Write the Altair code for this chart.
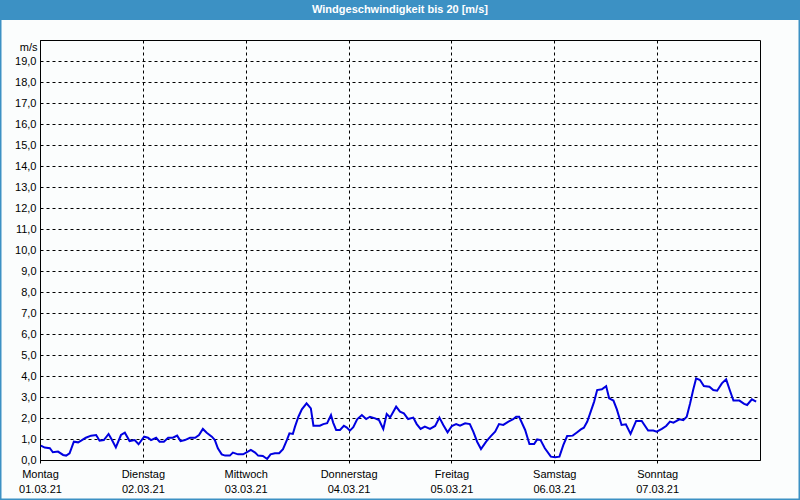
import altair as alt
import pandas as pd

# hours since Monday 01.03.21 00:00
hours = [0.2, 1.1, 2.3, 3.0, 4.2, 5.4, 6.1, 6.9, 7.9, 8.9, 9.6, 10.7, 11.9, 13.1, 13.9, 14.9,
         16.0, 16.8, 17.7, 18.9, 19.8, 20.9, 22.1, 23.0, 24.3, 25.2, 25.9, 27.1, 27.9, 28.9,
         29.9, 31.0, 32.0, 32.8, 33.8, 35.0, 36.2, 37.1, 38.0, 38.9, 40.1, 40.8, 41.5, 42.4,
         43.2, 44.3, 45.0, 46.2, 47.4, 48.3, 49.2, 50.2, 50.9, 52.0, 53.0, 53.8, 54.8, 55.8,
         56.7, 57.6, 58.2, 59.0, 59.5, 60.3, 61.1, 62.2, 63.2, 63.8, 65.3, 66.1, 67.0, 67.9,
         68.4, 69.1, 70.0, 70.9, 71.6, 72.3, 73.1, 74.0, 75.1, 76.1, 77.0, 78.2, 79.1, 80.1,
         80.9, 81.7, 83.1, 84.0, 84.9, 85.9, 87.1, 87.9, 88.8, 89.8, 91.0, 92.2, 93.2, 94.1,
         95.1, 96.1, 97.1, 98.0, 99.2, 100.3, 101.1, 102.0, 102.9, 104.1, 105.2, 106.2, 107.1,
         108.1, 109.3, 110.4, 111.1, 111.8, 113.2, 114.2, 115.3, 116.0, 116.8, 117.8, 119.2,
         120.2, 121.2, 122.1, 123.0, 124.3, 125.2, 126.2, 126.9, 127.7, 128.5, 129.3, 130.0,
         131.1, 132.1, 132.8, 133.8, 134.6, 135.7, 136.7, 137.8, 139.1, 140.4, 141.9, 143.1,
         143.9, 145.1, 146.1, 147.0, 147.8, 149.2, 150.1, 150.9, 151.7, 152.4, 153.1, 154.0,
         154.9, 156.2, 157.1, 158.0, 159.1, 160.1, 161.0, 161.8, 163.2, 164.3, 165.0, 166.1,
         167.1]
speeds = [0.68, 0.59, 0.56, 0.37, 0.40, 0.24, 0.21, 0.32, 0.87, 0.84, 0.92, 1.06, 1.16, 1.19, 0.92, 0.95,
          1.24, 0.95, 0.60, 1.19, 1.30, 0.90, 0.95, 0.75, 1.11, 1.06, 0.95, 1.06, 0.87, 0.87,
          1.06, 1.06, 1.16, 0.90, 0.95, 1.06, 1.06, 1.19, 1.48, 1.30, 1.11, 0.95, 0.56, 0.27,
          0.21, 0.21, 0.35, 0.27, 0.27, 0.37, 0.48, 0.35, 0.21, 0.19, 0.05, 0.27, 0.32, 0.32,
          0.52, 0.95, 1.27, 1.24, 1.59, 2.06, 2.41, 2.70, 2.46, 1.63, 1.63, 1.71, 1.75, 2.14,
          1.78, 1.43, 1.43, 1.63, 1.54, 1.40, 1.56, 1.94, 2.14, 1.95, 2.06, 1.98, 1.90, 1.48,
          2.19, 2.03, 2.54, 2.30, 2.22, 1.95, 2.02, 1.71, 1.48, 1.59, 1.48, 1.62, 2.02, 1.67,
          1.32, 1.62, 1.71, 1.63, 1.75, 1.71, 1.35, 0.87, 0.52, 0.87, 1.14, 1.35, 1.71,
          1.67, 1.83, 1.94, 2.06, 2.06, 1.43, 0.76, 0.76, 0.98, 0.95, 0.56, 0.16,
          0.13, 0.16, 0.71, 1.14, 1.16, 1.30, 1.46, 1.54, 1.83, 2.30, 2.78, 3.33,
          3.37, 3.52, 2.94, 2.83, 2.41, 1.67, 1.70, 1.24, 1.86, 1.86, 1.40, 1.40,
          1.35, 1.48, 1.62, 1.83, 1.78, 1.94, 1.90, 2.06, 2.70, 3.33, 3.89, 3.81,
          3.52, 3.49, 3.33, 3.30, 3.65, 3.84, 3.30, 2.83, 2.83, 2.67, 2.62, 2.89,
          2.78]

day_names = ["Montag", "Dienstag", "Mittwoch", "Donnerstag", "Freitag", "Samstag", "Sonntag"]
day_dates = ["01.03.21", "02.03.21", "03.03.21", "04.03.21", "05.03.21", "06.03.21", "07.03.21"]
day_ticks = [0, 24, 48, 72, 96, 120, 144]
y_ticks = list(range(0, 20))
title_text = "Windgeschwindigkeit bis 20 [m/s]"
unit_text = "m/s"

FONT = "Liberation Sans"
BLUE = "#3c91c4"
BG = "#fbfdfd"

df = pd.DataFrame({"h": hours, "v": speeds})

names_js = "[" + ",".join("'%s'" % n for n in day_names) + "]"
dates_js = "[" + ",".join("'%s'" % d for d in day_dates) + "]"
x_label_expr = "[%s[round(datum.value/24)], %s[round(datum.value/24)]]" % (names_js, dates_js)

line = alt.Chart(df).mark_line(color="#0000e0", strokeWidth=2).encode(
    x=alt.X("h:Q",
            scale=alt.Scale(domain=[0, 168], nice=False, zero=False),
            axis=alt.Axis(values=day_ticks, labelExpr=x_label_expr, title=None,
                          grid=True, gridColor="black", gridDash=[3, 3], gridOpacity=1,
                          ticks=True, tickColor="black", tickDash=[3, 3], tickSize=6,
                          domainColor="black", labelFont=FONT, labelFontSize=11,
                          labelColor="black", labelLineHeight=15, labelPadding=2,
                          labelFlush=False, labelBaseline="top", labelOverlap=False)),
    y=alt.Y("v:Q",
            scale=alt.Scale(domain=[0, 20], nice=False, zero=True),
            axis=alt.Axis(values=y_ticks,
                          labelExpr="replace(format(datum.value, '.1f'), '.', ',')",
                          grid=True, gridColor="black", gridDash=[3, 3], gridOpacity=1,
                          ticks=False, domainColor="black", labelFont=FONT,
                          labelFontSize=11, labelColor="black", labelPadding=4,
                          labelFlush=False, labelOverlap=False,
                          title=unit_text, titleAngle=0, titleX=-3, titleY=7,
                          titleAlign="right", titleBaseline="middle", titleFont=FONT,
                          titleFontSize=11, titleFontWeight="normal", titleColor="black")),
)

deco = alt.Data(values=[{"k": 1}])

frame = alt.Chart(deco).mark_rect(filled=False, stroke=BLUE, strokeWidth=3).encode(
    x=alt.value(-40), x2=alt.value(760), y=alt.value(-40), y2=alt.value(460)
)
bar = alt.Chart(deco).mark_rect(color=BLUE).encode(
    x=alt.value(-40), x2=alt.value(760), y=alt.value(-40), y2=alt.value(-20)
)
title = alt.Chart(deco).mark_text(color="white", font=FONT, fontSize=11, fontWeight="bold",
                                  align="center", baseline="middle").encode(
    x=alt.value(360), y=alt.value(-30), text=alt.value(title_text)
)

chart = alt.layer(frame, bar, title, line).properties(
    width=720, height=420,
    autosize=alt.AutoSizeParams(type="none"),
    padding={"left": 40, "top": 40, "right": 40, "bottom": 40},
).configure(background=BG).configure_view(stroke="black", strokeWidth=1, fill=BG)

chart.save("out.html", embed_options={"renderer": "svg", "actions": False})
